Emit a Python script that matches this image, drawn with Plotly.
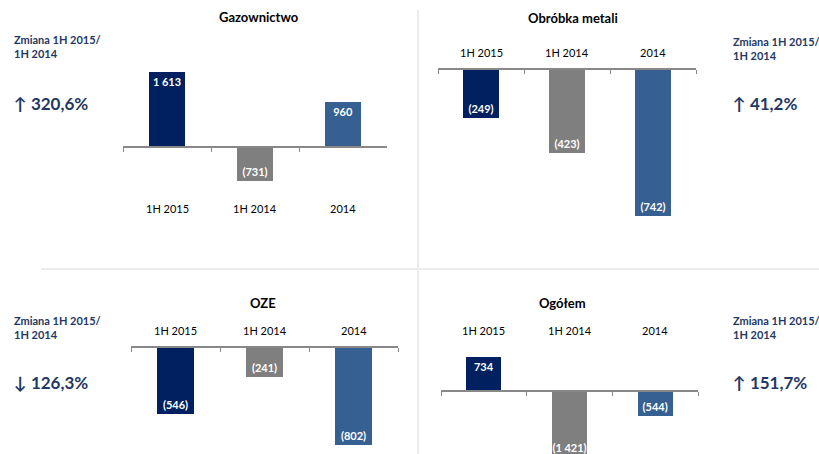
import plotly.graph_objects as go

W, H = 819, 454

categories = ["1H 2015", "1H 2014", "2014"]
titles = ["Gazownictwo", "Obróbka metali", "OZE", "Ogółem"]
gaz = [1613, -731, 960]
metal = [-249, -423, -742]
oze = [-546, -241, -802]
total = [734, -1421, -544]
series = [gaz, metal, oze, total]
changes = ["↑ 320,6%", "↑ 41,2%", "↓ 126,3%", "↑ 151,7%"]
change_label = "Zmiana 1H 2015/<br>1H 2014"

bar_colors = ["#002060", "#7F7F7F", "#376092"]
text_blue = "#1F3864"
FONT = "Lato"


def fmt(v):
    s = f"{abs(v):,}".replace(",", " ")
    return f"({s})" if v < 0 else s


# pixel geometry of each panel
panels = [
    dict(x0=123, x1=387, axis=147, s=0.0465, top=0, bot=240, label_y=208,
         title=(259, 17), tx=12, zy=46, py=103),
    dict(x0=438, x1=696, axis=69, s=0.198, top=0, bot=240, label_y=52,
         title=(573, 18), tx=731, zy=48, py=103),
    dict(x0=131, x1=398, axis=347, s=0.1225, top=272, bot=454, label_y=330,
         title=(263, 303), tx=12, zy=327, py=382),
    dict(x0=441, x1=698, axis=391, s=0.0465, top=272, bot=454, label_y=330,
         title=(562, 303), tx=731, zy=327, py=382),
]


def px(x):
    return x / W


def py(y):
    return 1 - y / H


fig = go.Figure()
annotations = []
layout_axes = {}

for i, (p, vals) in enumerate(zip(panels, series)):
    n = "" if i == 0 else str(i + 1)
    xa, ya = "x" + n, "y" + n
    fig.add_trace(go.Bar(
        x=categories, y=vals, xaxis=xa, yaxis=ya,
        marker=dict(color=bar_colors, line=dict(width=0)),
        width=0.41,
        text=[fmt(v) for v in vals],
        textposition="inside", insidetextanchor="end",
        textangle=0, constraintext="none",
        textfont=dict(color="white", size=11, family=FONT, weight="bold"),
        hoverinfo="skip", showlegend=False,
    ))
    yr = [-(p["bot"] - p["axis"]) / p["s"], (p["axis"] - p["top"]) / p["s"]]
    layout_axes["xaxis" + n] = dict(
        domain=[px(p["x0"]), px(p["x1"])], anchor="free", position=py(p["axis"]),
        range=[-0.5, 2.5], type="category", showline=True, linecolor="#888888",
        linewidth=2, ticks="outside", tickson="boundaries", ticklen=4,
        tickcolor="#888888", tickwidth=1, showticklabels=False, showgrid=False,
        zeroline=False, fixedrange=True,
    )
    layout_axes["yaxis" + n] = dict(
        domain=[py(p["bot"]), py(p["top"])], range=yr, visible=False,
        anchor=xa, fixedrange=True,
    )
    # category labels (positioned by category index on the category axis)
    for j, c in enumerate(categories):
        annotations.append(dict(
            x=j, xref=xa, y=py(p["label_y"]), yref="paper", text=c,
            showarrow=False, xanchor="center", yanchor="middle",
            font=dict(family=FONT, size=11, color="#000000"),
        ))
    # title
    annotations.append(dict(
        x=px(p["title"][0]), y=py(p["title"][1]), xref="paper", yref="paper",
        text=titles[i], showarrow=False, xanchor="center", yanchor="middle",
        font=dict(family=FONT, size=13, color="#000000", weight="bold"),
    ))
    # change label
    annotations.append(dict(
        x=px(p["tx"]), y=py(p["zy"]), xref="paper", yref="paper",
        text=change_label, showarrow=False, xanchor="left", yanchor="middle",
        align="left",
        font=dict(family=FONT, size=11, color=text_blue, weight="bold"),
    ))
    annotations.append(dict(
        x=px(p["tx"]), y=py(p["py"]), xref="paper", yref="paper",
        text=changes[i], showarrow=False, xanchor="left", yanchor="middle",
        align="left",
        font=dict(family=FONT, size=17, color=text_blue, weight="bold"),
    ))

shapes = [
    dict(type="line", xref="paper", yref="paper", x0=px(41), x1=px(819),
         y0=py(269), y1=py(269), line=dict(color="#ECECEC", width=2)),
    dict(type="line", xref="paper", yref="paper", x0=px(418), x1=px(418),
         y0=py(10), y1=py(454), line=dict(color="#ECECEC", width=2)),
]

fig.update_layout(
    width=W, height=H, margin=dict(l=0, r=0, t=0, b=0),
    paper_bgcolor="white", plot_bgcolor="rgba(0,0,0,0)",
    annotations=annotations, shapes=shapes, bargap=0,
    font=dict(family=FONT),
    **layout_axes,
)

fig.write_html(
    "out.html",
    config={"displayModeBar": False, "staticPlot": True},
    post_script="document.body.style.margin='0';document.body.style.overflow='hidden';",
)
